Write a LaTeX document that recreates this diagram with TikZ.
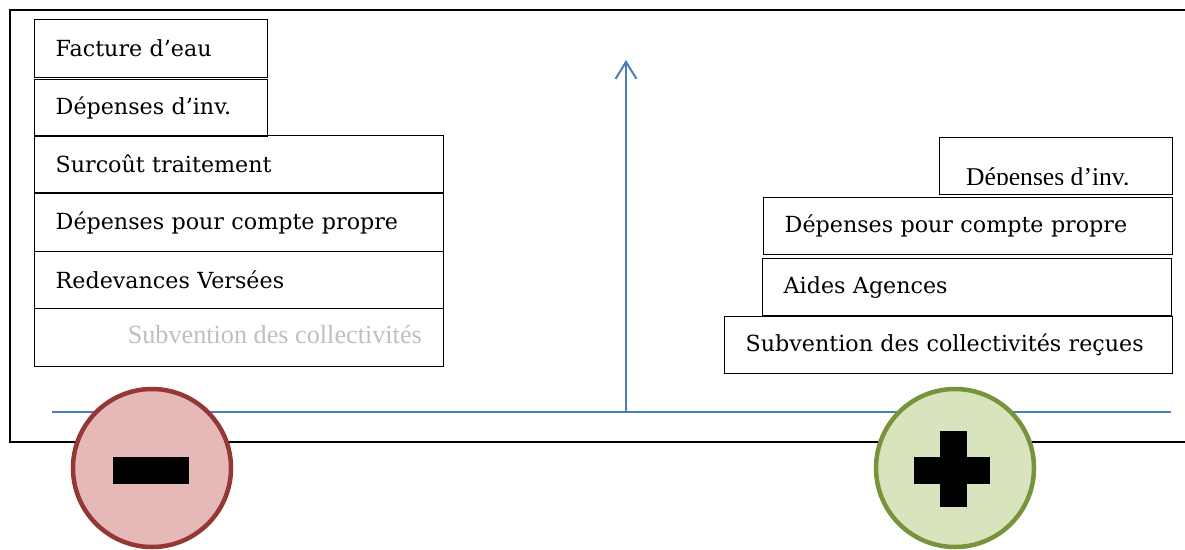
\documentclass[tikz,border=0pt]{standalone}
\usepackage{fontspec}
\setmainfont{DejaVu Serif}
\newfontfamily\timesfont{Liberation Serif}
\usetikzlibrary{arrows.meta}
\definecolor{axisblue}{HTML}{4A7EBB}
\definecolor{minusline}{HTML}{953735}
\definecolor{minusfill}{HTML}{E6B9B8}
\definecolor{plusline}{HTML}{77933C}
\definecolor{plusfill}{HTML}{D7E4BD}
\definecolor{faded}{HTML}{BFBFBF}
\tikzset{
  item/.style={draw=black, line width=1.4pt, anchor=north west, inner xsep=21pt,
    inner ysep=0pt, minimum height=#1, align=left,
    font=\fontsize{22.2}{26}\selectfont},
  item/.default=58pt,
  sign/.style={circle, line width=4.5pt, minimum size=158pt, inner sep=0pt},
  axis/.style={draw=axisblue, line width=2pt},
}
\begin{document}
\begin{tikzpicture}[x=1pt,y=-1pt]
\useasboundingbox (0,0) rectangle (1185,549);
% outer frame, open on the right
\draw[line width=2pt] (10,10) rectangle (1200,442);

% left column: costs
\node[item, text width=191pt] (fact) at (34,19) {Facture d’eau};
\node[item, text width=191pt, minimum height=57pt] (inv) at (34,79) {Dépenses d’inv.};
\node[item, text width=367pt, minimum height=57pt] (surc) at (34,135) {Surcoût traitement};
\node[item, text width=367pt] (dcp) at (34,193) {Dépenses pour compte propre};
\node[item, text width=367pt, minimum height=57pt] (red) at (34,251) {Redevances Versées};
\node[item, text width=367pt] (sub) at (34,308) {};
\node[anchor=base east, inner sep=0pt, text=faded, font=\timesfont\fontsize{26.2}{30}\selectfont] (subtxt) at (422,343) {Subvention des collectivités};

% right column: revenues
\node[item, text width=191pt, minimum height=57pt] (rinv) at (939,137) {};
\begin{scope}
  \clip (939,137) rectangle (1172,184);
  \node[anchor=base west, inner sep=0pt, font=\timesfont\fontsize{25.6}{29}\selectfont] (rinvtxt) at (966,185) {Dépenses d’inv.};
\end{scope}
\node[item, text width=367pt, minimum height=57pt] (rdcp) at (763,197) {Dépenses pour compte propre};
\node[item, text width=367pt, minimum height=57pt] (aides) at (762,258) {Aides Agences};
\node[item, text width=406pt, minimum height=57pt] (rsub) at (724,316) {Subvention des collectivités reçues};

% axes
\coordinate (hl) at (52,412);
\coordinate (hr) at (1171,412);
\coordinate (vb) at (626,412);
\coordinate (vt) at (626,60);
\draw[axis] (hl) -- (hr);
\draw[axis, -{Straight Barb[length=17pt, width=21pt]}] (vb) -- (vt);

% signs
\node[sign, draw=minusline, fill=minusfill] (minus) at (152,468) {};
\fill (113,457) rectangle (189,484);
\node[sign, draw=plusline, fill=plusfill] (plus) at (955,468) {};
\fill (914,457) rectangle (990,484);
\fill (940,431) rectangle (967,507);
\end{tikzpicture}
\end{document}
